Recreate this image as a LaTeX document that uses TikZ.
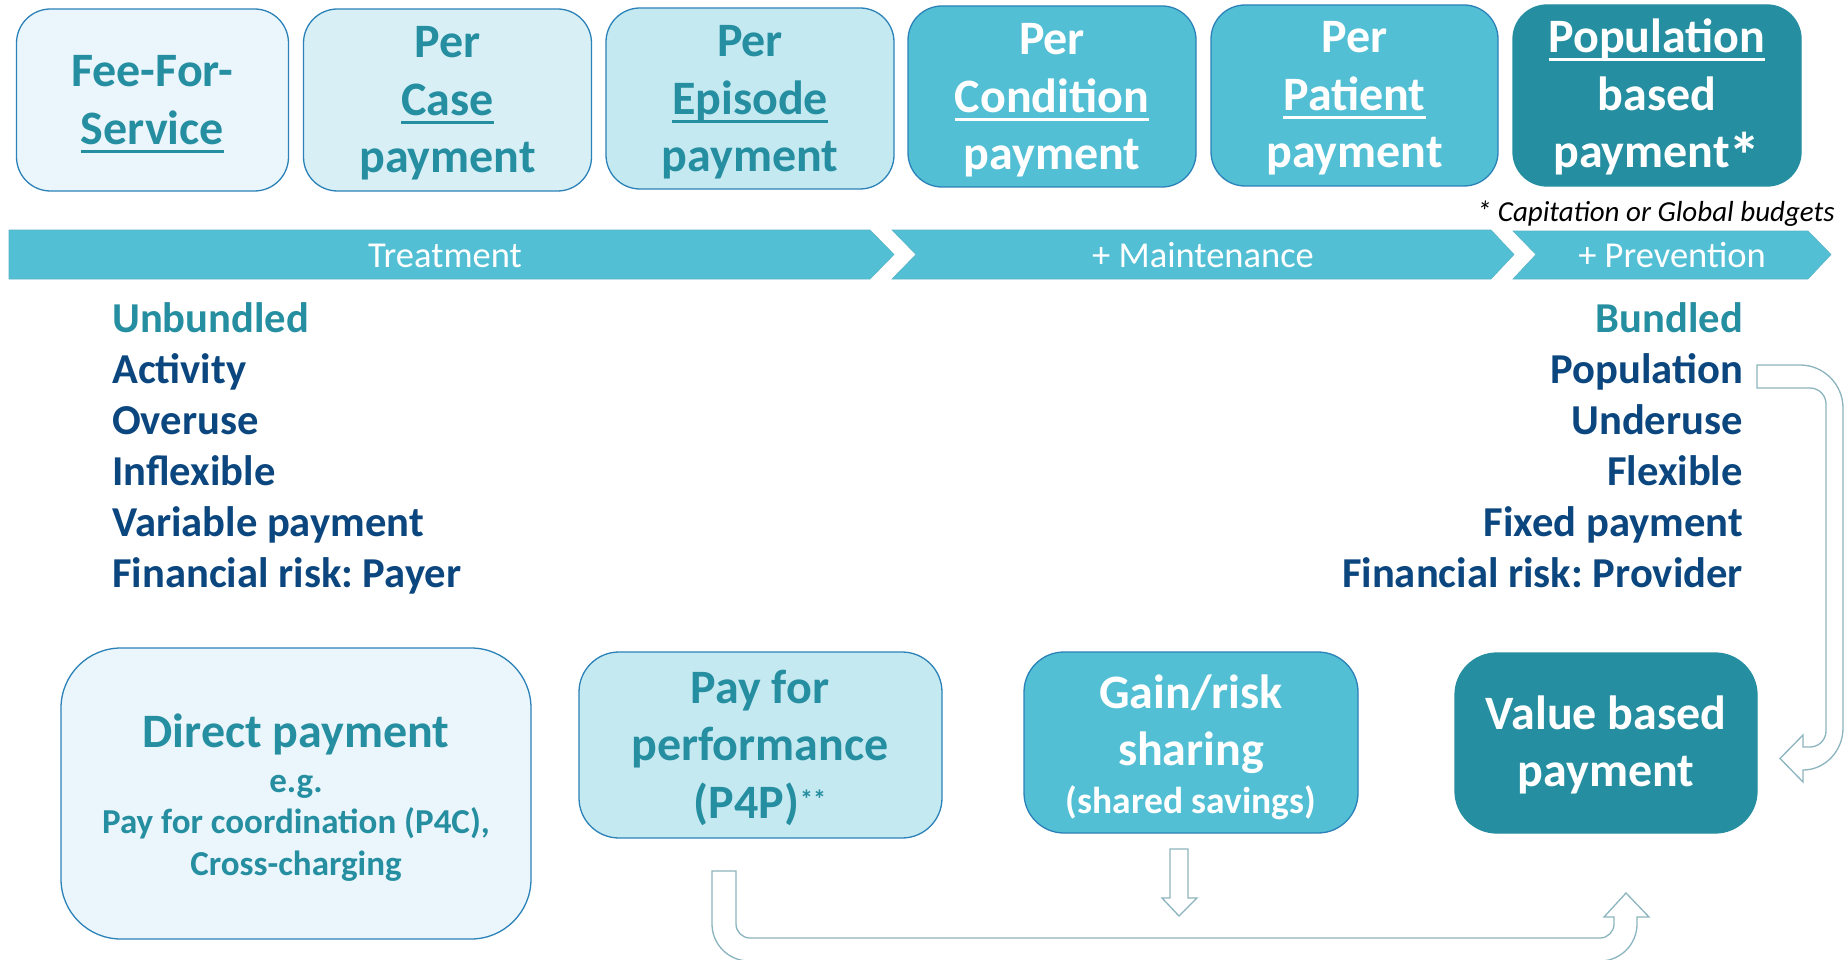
\documentclass[tikz,border=0pt]{standalone}
\usepackage{fontspec}
\setmainfont{Carlito}
\frenchspacing
\definecolor{lightA}{HTML}{EAF6FB}
\definecolor{lightB}{HTML}{D8F0F5}
\definecolor{lightC}{HTML}{C5E9F1}
\definecolor{midT}{HTML}{52BFD4}
\definecolor{darkT}{HTML}{258EA0}
\definecolor{edgeB}{HTML}{2B82B8}
\definecolor{tealTxt}{HTML}{258EA0}
\definecolor{navy}{HTML}{0B467E}
\definecolor{arrowC}{HTML}{8CB4BE}
\newcommand{\uln}[1]{\setbox0\hbox{#1}\rlap{\rule[-0.17em]{\wd0}{0.06em}}\box0}
\newcommand{\stackC}[1]{\vtop{\halign{\hfil##\hfil\cr#1\crcr}}}
\newcommand{\stackL}[1]{\vtop{\halign{##\hfil\cr#1\crcr}}}
\newcommand{\stackR}[1]{\vtop{\halign{\hfil##\cr#1\crcr}}}
\newcommand{\bigstar}{\kern-0.03em\raisebox{-0.22em}{\scalebox{1.35}{*}}}
\tikzset{
  pbox/.style={draw=edgeB, line width=1.3pt, rounded corners=34pt, inner sep=0pt},
  bigtxt/.style={anchor=base, inner sep=0pt, font=\fontsize{48}{57.5}\selectfont\bfseries},
  smalltxt/.style={anchor=base, inner sep=0pt, font=\fontsize{35}{41.5}\selectfont\bfseries},
  bartxt/.style={anchor=base, inner sep=0pt, text=white, font=\fontsize{36.5}{43}\selectfont},
  listtxt/.style={inner sep=0pt, text=navy, font=\fontsize{42.6}{51}\selectfont\bfseries},
  chev/.style={fill=midT, draw=midT!85!gray, line width=0.6pt},
  blockarrow/.style={draw=arrowC, line width=1.3pt, fill=white, line join=miter},
}
\begin{document}
\begin{tikzpicture}[x=1pt,y=-1pt]
\clip (0,0) rectangle (1844,960);
\fill[white] (0,0) rectangle (1844,960);

% top boxes
\node[pbox, fill=lightA, minimum width=272pt, minimum height=182pt] (b1) at (152.5,100) {};
\node[pbox, fill=lightB, minimum width=288pt, minimum height=182pt] (b2) at (447.5,100) {};
\node[pbox, fill=lightC, minimum width=288pt, minimum height=181pt] (b3) at (750,98.5) {};
\node[pbox, fill=midT, minimum width=288pt, minimum height=181pt] (b4) at (1052,96.5) {};
\node[pbox, fill=midT, minimum width=287pt, minimum height=181pt] (b5) at (1354.5,95.5) {};
\node[pbox, draw=darkT, fill=darkT, minimum width=288pt, minimum height=181pt] (b6) at (1657,95.5) {};

\node[bigtxt, text=tealTxt] (t1) at (152.5,87) {\stackC{Fee-For-\cr\uln{Service}}};
\node[bigtxt, text=tealTxt] (t2) at (447.5,58) {\stackC{Per\cr\uln{Case}\cr payment}};
\node[bigtxt, text=tealTxt] (t3) at (750,57) {\stackC{Per\cr\uln{Episode}\cr payment}};
\node[bigtxt, text=white] (t4) at (1052,55) {\stackC{Per\cr\uln{Condition}\cr payment}};
\node[bigtxt, text=white] (t5) at (1354.5,53) {\stackC{Per\cr\uln{Patient}\cr payment}};
\node[bigtxt, text=white] (t6) at (1657,53) {\stackC{\uln{Population}\cr based\cr payment\bigstar}};

\node[anchor=base east, inner sep=0pt, font=\fontsize{29}{35}\selectfont\itshape] (foot) at (1835,222) {* Capitation or Global budgets};

% chevron bar
\path[chev] (9,230) -- (870,230) -- (894,254.5) -- (870,279) -- (9,279) -- cycle;
\path[chev] (892,230) -- (1491,230) -- (1514,254.5) -- (1491,279) -- (892,279) -- (916,254.5) -- cycle;
\path[chev] (1513,231) -- (1808,231) -- (1831,254.5) -- (1808,279) -- (1513,279) -- (1536,254.5) -- cycle;
\node[bartxt] (treat) at (445,267) {Treatment};
\node[bartxt] (maint) at (1203,267) {+ Maintenance};
\node[bartxt] (prev) at (1672,267) {+ Prevention};

% lists
\node[listtxt, anchor=base west] (leftlist) at (112,332)
  {\stackL{\color{tealTxt}Unbundled\cr Activity\cr Overuse\cr Inflexible\cr Variable payment\cr Financial risk: Payer}};
\node[listtxt, anchor=base east] (rightlist) at (1743,332)
  {\stackR{\color{tealTxt}Bundled\cr Population\cr Underuse\cr Flexible\cr Fixed payment\cr Financial risk: Provider}};

% bottom boxes
\node[pbox, rounded corners=60pt, fill=lightA, minimum width=470pt, minimum height=291pt] (direct) at (296,793.5) {};
\node[pbox, rounded corners=40pt, fill=lightC, minimum width=363pt, minimum height=186pt] (p4p) at (760.5,745) {};
\node[pbox, rounded corners=40pt, fill=midT, minimum width=334pt, minimum height=181pt] (gain) at (1191,742.5) {};
\node[pbox, rounded corners=42pt, draw=darkT, fill=darkT, minimum width=302pt, minimum height=180pt] (value) at (1606,743) {};

\node[bigtxt, text=tealTxt] (dtitle) at (296,747) {Direct payment};
\node[smalltxt, text=tealTxt] (dsub) at (296,792) {\stackC{e.g.\cr Pay for coordination (P4C),\cr Cross-charging}};
\node[bigtxt, text=tealTxt] (ptxt) at (760,703) {\stackC{Pay for\cr performance\cr (P4P)\kern1pt\raisebox{10pt}{\fontsize{26}{26}\selectfont **}}};
\node[bigtxt, text=white] (gtxt) at (1191,708) {\stackC{Gain/risk\cr sharing}};
\node[anchor=base, inner sep=0pt, text=white, font=\fontsize{37.5}{43}\selectfont\bfseries] (gsub) at (1191,813) {(shared savings)};
\node[bigtxt, text=white] (vtxt) at (1606,729) {\stackC{Value based\cr payment}};

% U-turn arrow on the right
\path[blockarrow] (1757,365) -- (1800,365) .. controls (1823.7,365) and (1843,384.3) .. (1843,408)
  -- (1843,728) .. controls (1843,751) and (1825,770) .. (1803,770)
  -- (1803,782) -- (1780,758.5) -- (1803,735) -- (1803,747) -- (1810,747)
  .. controls (1818.8,747) and (1826,739.8) .. (1826,731)
  -- (1826,404) .. controls (1826,395.2) and (1818.8,388) .. (1810,388)
  -- (1757,388) -- cycle;

% bottom arrow from P4P to value based payment
\path[blockarrow] (712,871) -- (736,871) -- (736,924) .. controls (736,931.7) and (742.3,938) .. (750,938)
  -- (1600,938) .. controls (1607.7,938) and (1614,931.7) .. (1614,924) -- (1614,917)
  -- (1604,917) -- (1626,893) -- (1649,917) -- (1637,917) -- (1637,924)
  .. controls (1637,944.4) and (1620.4,961) .. (1600,961)
  -- (749,961) .. controls (728.6,961) and (712,944.4) .. (712,924) -- cycle;

% small down arrow under gain/risk sharing
\path[blockarrow] (1170,849) -- (1188,849) -- (1188,898) -- (1197,898) -- (1179,916) -- (1162,898) -- (1170,898) -- cycle;
\end{tikzpicture}
\end{document}
